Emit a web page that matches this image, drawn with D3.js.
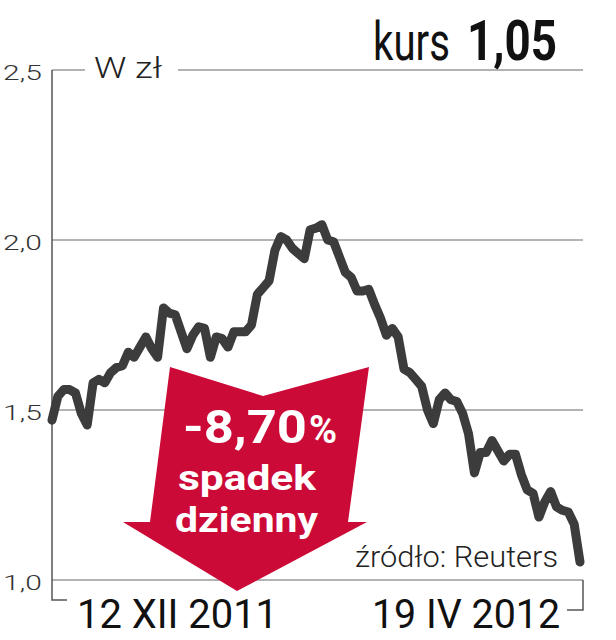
<!DOCTYPE html>
<html>
<head>
<meta charset="utf-8">
<script src="https://cdn.jsdelivr.net/npm/d3@7"></script>
<style>
  html, body { margin: 0; padding: 0; background: #fff; }
  svg { display: block; }
</style>
</head>
<body>
<svg id="chart" width="616" height="640"></svg>
<script>
// session number (0 = 12 XII 2011, 90 = 19 IV 2012) and closing price in zl
var sessions = [0, 1, 2, 3, 4, 5, 6, 7, 8, 9, 10, 11, 12, 13, 14, 15, 16, 17, 18, 19,
  20, 21, 22, 23, 24, 25, 26, 27, 28, 29, 30, 31, 32, 33, 34, 35, 36, 37, 38, 39,
  40, 41, 42, 43, 44, 45, 46, 47, 48, 49, 50, 51, 52, 53, 54, 55, 56, 57, 58, 59,
  60, 61, 62, 63, 64, 65, 66, 67, 68, 69, 70, 71, 72, 73, 74, 75, 76, 77, 78, 79,
  80, 81, 82, 83, 84, 85, 86, 87, 88, 89, 90];
var prices = [1.47, 1.54, 1.56, 1.56, 1.55, 1.49, 1.456, 1.58, 1.59, 1.58,
  1.61, 1.625, 1.63, 1.67, 1.655, 1.685, 1.715, 1.68, 1.655, 1.80,
  1.785, 1.78, 1.73, 1.68, 1.72, 1.745, 1.74, 1.655, 1.715, 1.71,
  1.685, 1.73, 1.73, 1.73, 1.75, 1.84, 1.86, 1.88, 1.97, 2.01,
  2.0, 1.975, 1.96, 1.945, 2.03, 2.035, 2.045, 2.0, 1.995, 1.95,
  1.905, 1.89, 1.85, 1.85, 1.855, 1.81, 1.77, 1.72, 1.74, 1.715,
  1.62, 1.61, 1.59, 1.57, 1.50, 1.46, 1.53, 1.55, 1.53, 1.525,
  1.49, 1.43, 1.315, 1.375, 1.375, 1.41, 1.38, 1.35, 1.37, 1.37,
  1.31, 1.265, 1.255, 1.185, 1.23, 1.26, 1.215, 1.205, 1.20, 1.165,
  1.053];

var yTicks = [1.0, 1.5, 2.0, 2.5];
var startLabel = "12 XII 2011";
var endLabel = "19 IV 2012";
var unitLabel = "W zł";
var lastPrice = "1,05";
var dailyChange = "-8,70";
var sourceLabel = "źródło: Reuters";

var svg = d3.select("#chart");

var x = d3.scaleLinear().domain([0, 90]).range([52, 580]);
var y = d3.scaleLinear().domain([1.0, 2.5]).range([580, 70]);
var gridRight = 583;
var plL = d3.formatLocale({decimal: ",", thousands: " ", grouping: [3], currency: ["", " zł"]});
var fmt = plL.format(".1f");

var narrow = "'Liberation Sans Narrow', 'Roboto', sans-serif";
var light = "'Roboto', 'Liberation Sans', sans-serif";

// gridlines
svg.append("g").selectAll("line.grid")
  .data(yTicks)
  .enter().append("line")
  .attr("class", "grid")
  .attr("x1", x(0)).attr("x2", gridRight)
  .attr("y1", function(d) { return y(d); })
  .attr("y2", function(d) { return y(d); })
  .attr("stroke", "#9a9a9a")
  .attr("stroke-width", 1.5);

// white gap in the top line for the unit label
svg.append("rect")
  .attr("x", 85).attr("y", y(2.5) - 12).attr("width", 93).attr("height", 24)
  .attr("fill", "#fff");

// vertical axis with the little foot at the bottom
svg.append("path")
  .attr("d", "M" + x(0) + "," + y(2.5) + "V" + (y(1.0) + 20) + "H" + (x(0) + 15))
  .attr("fill", "none").attr("stroke", "#555").attr("stroke-width", 1.5);
// right bracket
svg.append("path")
  .attr("d", "M" + gridRight + "," + y(1.0) + "V" + (y(1.0) + 30) + "H" + (gridRight - 16))
  .attr("fill", "none").attr("stroke", "#555").attr("stroke-width", 1.5);

// tick labels
svg.append("g").selectAll("text.tick")
  .data(yTicks)
  .enter().append("text")
  .attr("class", "tick")
  .attr("x", 3)
  .attr("y", function(d) { return y(d) + 10; })
  .attr("font-family", light).attr("font-weight", 300)
  .attr("font-size", 21).attr("fill", "#333")
  .attr("textLength", 39).attr("lengthAdjust", "spacingAndGlyphs")
  .text(function(d) { return fmt(d); });

svg.append("text")
  .attr("x", 94).attr("y", 78)
  .attr("font-family", light).attr("font-weight", 300)
  .attr("font-size", 30).attr("fill", "#222")
  .attr("textLength", 68).attr("lengthAdjust", "spacingAndGlyphs")
  .text(unitLabel);

// big red arrow, drawn around its tip
var tip = [237, 591];
var arrowShape = [[-67, -224], [26, -195], [132, -224], [111, -69], [130, -69],
  [0, 0], [-114, -69], [-87, -69]];
svg.append("polygon")
  .attr("points", arrowShape.map(function(p) { return (tip[0] + p[0]) + "," + (tip[1] + p[1]); }).join(" "))
  .attr("fill", "#cc0a37");

var pct = svg.append("text")
  .attr("x", 183).attr("y", 443)
  .attr("font-family", narrow).attr("font-weight", "bold")
  .attr("font-size", 46).attr("fill", "#fff");
pct.append("tspan").attr("textLength", 124).attr("lengthAdjust", "spacingAndGlyphs").text(dailyChange);
pct.append("tspan").attr("font-size", 38).attr("dx", 2).text("%");

svg.append("text")
  .attr("x", 178).attr("y", 490)
  .attr("font-family", narrow).attr("font-weight", "bold")
  .attr("font-size", 35).attr("fill", "#fff")
  .attr("textLength", 138).attr("lengthAdjust", "spacingAndGlyphs")
  .text("spadek");
svg.append("text")
  .attr("x", 175).attr("y", 532)
  .attr("font-family", narrow).attr("font-weight", "bold")
  .attr("font-size", 35).attr("fill", "#fff")
  .attr("textLength", 143).attr("lengthAdjust", "spacingAndGlyphs")
  .text("dzienny");

// price line
var line = d3.line()
  .x(function(d) { return x(d[0]); })
  .y(function(d) { return y(d[1]); });
svg.append("path")
  .datum(d3.zip(sessions, prices))
  .attr("d", line)
  .attr("fill", "none")
  .attr("stroke", "#3c3c3c")
  .attr("stroke-width", 9)
  .attr("stroke-linejoin", "round")
  .attr("stroke-linecap", "round");

// header
svg.append("text")
  .attr("x", 373).attr("y", 60)
  .attr("font-family", narrow).attr("font-size", 54).attr("fill", "#111")
  .attr("textLength", 77).attr("lengthAdjust", "spacingAndGlyphs")
  .text("kurs");
svg.append("text")
  .attr("x", 467).attr("y", 60)
  .attr("font-family", narrow).attr("font-weight", "bold")
  .attr("font-size", 56).attr("fill", "#111")
  .attr("textLength", 90).attr("lengthAdjust", "spacingAndGlyphs")
  .text(lastPrice);

// source and dates
svg.append("text")
  .attr("x", 355).attr("y", 567)
  .attr("font-family", light).attr("font-weight", 300)
  .attr("font-size", 30).attr("fill", "#222")
  .attr("textLength", 203).attr("lengthAdjust", "spacingAndGlyphs")
  .text(sourceLabel);
svg.append("text")
  .attr("x", 77).attr("y", 628)
  .attr("font-family", narrow).attr("font-size", 40).attr("fill", "#111")
  .attr("textLength", 201).attr("lengthAdjust", "spacingAndGlyphs")
  .text(startLabel);
svg.append("text")
  .attr("x", 372).attr("y", 628)
  .attr("font-family", narrow).attr("font-size", 40).attr("fill", "#111")
  .attr("textLength", 188).attr("lengthAdjust", "spacingAndGlyphs")
  .text(endLabel);
</script>
</body>
</html>
